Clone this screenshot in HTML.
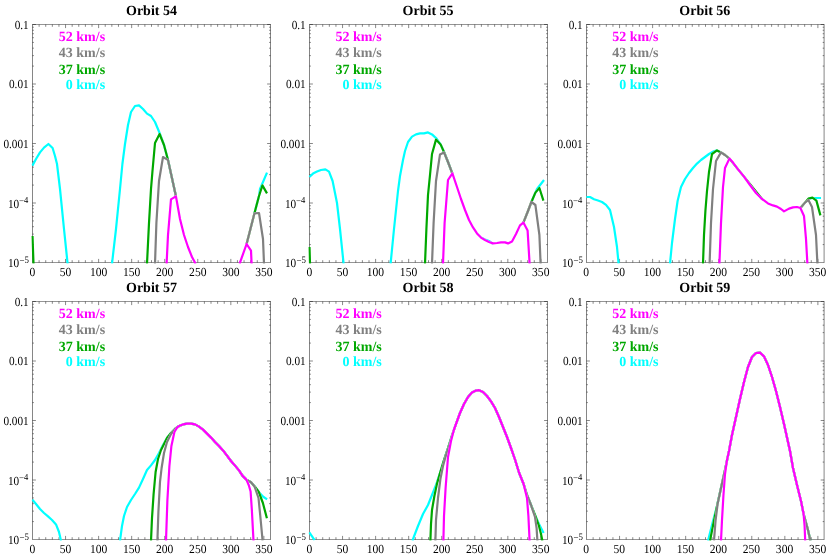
<!DOCTYPE html>
<html><head><meta charset="utf-8"><title>Orbits</title>
<style>html,body{margin:0;padding:0;background:#fff}svg{display:block;will-change:transform}text{font-family:"Liberation Serif",serif;text-rendering:geometricPrecision}</style></head>
<body>
<svg width="830" height="558" viewBox="0 0 830 558">
<rect width="830" height="558" fill="#fff"/>
<g>
<path d="M32.25,24.5H270.75 M32.25,262.5H270.75" fill="none" stroke="#000" stroke-width="0.42"/>
<path d="M32.5,24.5V262.5 M270.5,24.5V262.5" fill="none" stroke="#000" stroke-width="0.48"/>
<path d="M39.11,262.5v-2.3 M39.11,24.5v2.3 M45.72,262.5v-2.3 M45.72,24.5v2.3 M52.33,262.5v-2.3 M52.33,24.5v2.3 M58.94,262.5v-2.3 M58.94,24.5v2.3 M65.56,262.5v-3.6 M65.56,24.5v3.6 M72.17,262.5v-2.3 M72.17,24.5v2.3 M78.78,262.5v-2.3 M78.78,24.5v2.3 M85.39,262.5v-2.3 M85.39,24.5v2.3 M92.00,262.5v-2.3 M92.00,24.5v2.3 M98.61,262.5v-3.6 M98.61,24.5v3.6 M105.22,262.5v-2.3 M105.22,24.5v2.3 M111.83,262.5v-2.3 M111.83,24.5v2.3 M118.44,262.5v-2.3 M118.44,24.5v2.3 M125.06,262.5v-2.3 M125.06,24.5v2.3 M131.67,262.5v-3.6 M131.67,24.5v3.6 M138.28,262.5v-2.3 M138.28,24.5v2.3 M144.89,262.5v-2.3 M144.89,24.5v2.3 M151.50,262.5v-2.3 M151.50,24.5v2.3 M158.11,262.5v-2.3 M158.11,24.5v2.3 M164.72,262.5v-3.6 M164.72,24.5v3.6 M171.33,262.5v-2.3 M171.33,24.5v2.3 M177.94,262.5v-2.3 M177.94,24.5v2.3 M184.56,262.5v-2.3 M184.56,24.5v2.3 M191.17,262.5v-2.3 M191.17,24.5v2.3 M197.78,262.5v-3.6 M197.78,24.5v3.6 M204.39,262.5v-2.3 M204.39,24.5v2.3 M211.00,262.5v-2.3 M211.00,24.5v2.3 M217.61,262.5v-2.3 M217.61,24.5v2.3 M224.22,262.5v-2.3 M224.22,24.5v2.3 M230.83,262.5v-3.6 M230.83,24.5v3.6 M237.44,262.5v-2.3 M237.44,24.5v2.3 M244.06,262.5v-2.3 M244.06,24.5v2.3 M250.67,262.5v-2.3 M250.67,24.5v2.3 M257.28,262.5v-2.3 M257.28,24.5v2.3 M263.89,262.5v-3.6 M263.89,24.5v3.6 M32.5,244.59h1.4 M270.5,244.59h-1.4 M32.5,234.11h1.4 M270.5,234.11h-1.4 M32.5,226.68h1.4 M270.5,226.68h-1.4 M32.5,220.91h1.4 M270.5,220.91h-1.4 M32.5,216.20h1.4 M270.5,216.20h-1.4 M32.5,212.22h1.4 M270.5,212.22h-1.4 M32.5,208.77h1.4 M270.5,208.77h-1.4 M32.5,205.72h1.4 M270.5,205.72h-1.4 M32.5,203.00h3.4 M270.5,203.00h-3.4 M32.5,185.09h1.4 M270.5,185.09h-1.4 M32.5,174.61h1.4 M270.5,174.61h-1.4 M32.5,167.18h1.4 M270.5,167.18h-1.4 M32.5,161.41h1.4 M270.5,161.41h-1.4 M32.5,156.70h1.4 M270.5,156.70h-1.4 M32.5,152.72h1.4 M270.5,152.72h-1.4 M32.5,149.27h1.4 M270.5,149.27h-1.4 M32.5,146.22h1.4 M270.5,146.22h-1.4 M32.5,143.50h3.4 M270.5,143.50h-3.4 M32.5,125.59h1.4 M270.5,125.59h-1.4 M32.5,115.11h1.4 M270.5,115.11h-1.4 M32.5,107.68h1.4 M270.5,107.68h-1.4 M32.5,101.91h1.4 M270.5,101.91h-1.4 M32.5,97.20h1.4 M270.5,97.20h-1.4 M32.5,93.22h1.4 M270.5,93.22h-1.4 M32.5,89.77h1.4 M270.5,89.77h-1.4 M32.5,86.72h1.4 M270.5,86.72h-1.4 M32.5,84.00h3.4 M270.5,84.00h-3.4 M32.5,66.09h1.4 M270.5,66.09h-1.4 M32.5,55.61h1.4 M270.5,55.61h-1.4 M32.5,48.18h1.4 M270.5,48.18h-1.4 M32.5,42.41h1.4 M270.5,42.41h-1.4 M32.5,37.70h1.4 M270.5,37.70h-1.4 M32.5,33.72h1.4 M270.5,33.72h-1.4 M32.5,30.27h1.4 M270.5,30.27h-1.4 M32.5,27.22h1.4 M270.5,27.22h-1.4 M32.5,24.50h3.4 M270.5,24.50h-3.4" fill="none" stroke="#000" stroke-width="0.47"/>
<clipPath id="cp0"><rect x="31.3" y="24.5" width="240.4" height="239.1"/></clipPath>
<defs>
<path id="p0c" d="M32.4,165.6 L36.0,159.0 L40.0,152.4 L44.0,147.6 L48.4,144.0 L52.6,148.0 L55.0,156.0 L57.0,164.0 L60.0,189.0 L64.0,229.0 L67.6,263.7 M112.0,263.7 L116.0,229.0 L120.0,189.0 L122.4,164.0 L125.0,144.0 L128.0,125.0 L131.0,112.0 L135.0,106.0 L139.0,105.4 L143.0,109.0 L147.0,113.6 L151.0,116.0 L155.0,122.0 L159.6,133.0 L164.0,145.0 L168.0,160.0 L176.0,196.6 M254.4,213.4 L259.0,196.0 L260.0,189.0 L267.0,172.6"/>
<path id="p0g" d="M32.5,236.0 L33.5,263.7 M147.0,263.7 L149.0,223.0 L151.0,189.0 L152.4,172.0 L155.0,143.0 L159.6,134.0 L164.0,145.0 L168.0,160.0 L176.0,196.6 M246.6,244.0 L254.4,213.4 L259.0,196.0 L262.4,185.4 L267.0,193.4"/>
<path id="p0k" d="M155.0,263.7 L156.4,223.0 L159.0,181.0 L163.0,157.0 L167.4,159.6 L168.0,160.0 L176.0,196.6 M246.6,244.0 L254.4,213.4 L259.0,213.0 L263.0,239.0 L264.0,263.7"/>
<path id="p0m" d="M166.6,263.7 L168.0,235.0 L171.0,199.4 L175.8,196.4 L176.0,196.6 L180.0,219.0 L184.0,235.0 L188.0,247.0 L192.0,257.0 L195.6,263.7 M239.6,263.7 L246.6,244.0 L251.0,250.6 L251.6,263.7"/>
<mask id="m0c" maskUnits="userSpaceOnUse" x="30.5" y="22.5" width="242.0" height="242.0"><rect x="30.5" y="22.5" width="242.0" height="242.0" fill="#fff"/><g fill="none" stroke="#000" stroke-width="2.2" stroke-linejoin="round"><use href="#p0g"/><use href="#p0k"/><use href="#p0m"/></g></mask>
<mask id="m0g" maskUnits="userSpaceOnUse" x="30.5" y="22.5" width="242.0" height="242.0"><rect x="30.5" y="22.5" width="242.0" height="242.0" fill="#fff"/><g fill="none" stroke="#000" stroke-width="2.2" stroke-linejoin="round"><use href="#p0k"/><use href="#p0m"/></g></mask>
<mask id="m0k" maskUnits="userSpaceOnUse" x="30.5" y="22.5" width="242.0" height="242.0"><rect x="30.5" y="22.5" width="242.0" height="242.0" fill="#fff"/><g fill="none" stroke="#000" stroke-width="2.2" stroke-linejoin="round"><use href="#p0m"/></g></mask>
</defs>
<g clip-path="url(#cp0)" fill="none" stroke-width="2.2" stroke-linejoin="round" stroke-linecap="butt">
<use href="#p0c" stroke="#00ffff" mask="url(#m0c)"/>
<use href="#p0g" stroke="#00a800" mask="url(#m0g)"/>
<use href="#p0k" stroke="#808080" mask="url(#m0k)"/>
<use href="#p0m" stroke="#ff00ff"/>
</g>
<text x="151.5" y="15.0" font-size="14" font-weight="bold" text-anchor="middle" fill="#000">Orbit 54</text>
<text x="105.1" y="40.6" font-size="14" font-weight="bold" text-anchor="end" fill="#ff00ff">52 km/s</text>
<text x="105.1" y="56.6" font-size="14" font-weight="bold" text-anchor="end" fill="#808080">43 km/s</text>
<text x="105.1" y="73.6" font-size="14" font-weight="bold" text-anchor="end" fill="#00a800">37 km/s</text>
<text x="105.1" y="89.0" font-size="14" font-weight="bold" text-anchor="end" fill="#00ffff">0 km/s</text>
<text transform="translate(32.50,276.3) scale(0.94,1)" font-size="12.3" text-anchor="middle" fill="#000">0</text>
<text transform="translate(65.56,276.3) scale(0.94,1)" font-size="12.3" text-anchor="middle" fill="#000">50</text>
<text transform="translate(98.61,276.3) scale(0.94,1)" font-size="12.3" text-anchor="middle" fill="#000">100</text>
<text transform="translate(131.67,276.3) scale(0.94,1)" font-size="12.3" text-anchor="middle" fill="#000">150</text>
<text transform="translate(164.72,276.3) scale(0.94,1)" font-size="12.3" text-anchor="middle" fill="#000">200</text>
<text transform="translate(197.78,276.3) scale(0.94,1)" font-size="12.3" text-anchor="middle" fill="#000">250</text>
<text transform="translate(230.83,276.3) scale(0.94,1)" font-size="12.3" text-anchor="middle" fill="#000">300</text>
<text transform="translate(263.89,276.3) scale(0.94,1)" font-size="12.3" text-anchor="middle" fill="#000">350</text>
<text transform="translate(28.7,28.70) scale(0.915,1)" font-size="12.3" text-anchor="end" fill="#000">0.1</text>
<text transform="translate(28.7,88.20) scale(0.915,1)" font-size="12.3" text-anchor="end" fill="#000">0.01</text>
<text transform="translate(28.7,147.70) scale(0.915,1)" font-size="12.3" text-anchor="end" fill="#000">0.001</text>
<text transform="translate(19.20,207.50) scale(0.915,1)" font-size="12.3" text-anchor="end" fill="#000">10</text>
<text transform="translate(19.05,204.20) scale(0.93,1)" font-size="9.6" fill="#000">−<tspan dy="-1.3" font-size="9.2">4</tspan></text>
<text transform="translate(19.20,267.00) scale(0.915,1)" font-size="12.3" text-anchor="end" fill="#000">10</text>
<text transform="translate(19.50,263.70) scale(0.9,1)" font-size="9.9" fill="#000">−<tspan dy="-0.5" font-size="9.9">5</tspan></text>
</g>
<g>
<path d="M309.25,24.5H547.75 M309.25,262.5H547.75" fill="none" stroke="#000" stroke-width="0.42"/>
<path d="M309.5,24.5V262.5 M547.5,24.5V262.5" fill="none" stroke="#000" stroke-width="0.48"/>
<path d="M316.11,262.5v-2.3 M316.11,24.5v2.3 M322.72,262.5v-2.3 M322.72,24.5v2.3 M329.33,262.5v-2.3 M329.33,24.5v2.3 M335.94,262.5v-2.3 M335.94,24.5v2.3 M342.56,262.5v-3.6 M342.56,24.5v3.6 M349.17,262.5v-2.3 M349.17,24.5v2.3 M355.78,262.5v-2.3 M355.78,24.5v2.3 M362.39,262.5v-2.3 M362.39,24.5v2.3 M369.00,262.5v-2.3 M369.00,24.5v2.3 M375.61,262.5v-3.6 M375.61,24.5v3.6 M382.22,262.5v-2.3 M382.22,24.5v2.3 M388.83,262.5v-2.3 M388.83,24.5v2.3 M395.44,262.5v-2.3 M395.44,24.5v2.3 M402.06,262.5v-2.3 M402.06,24.5v2.3 M408.67,262.5v-3.6 M408.67,24.5v3.6 M415.28,262.5v-2.3 M415.28,24.5v2.3 M421.89,262.5v-2.3 M421.89,24.5v2.3 M428.50,262.5v-2.3 M428.50,24.5v2.3 M435.11,262.5v-2.3 M435.11,24.5v2.3 M441.72,262.5v-3.6 M441.72,24.5v3.6 M448.33,262.5v-2.3 M448.33,24.5v2.3 M454.94,262.5v-2.3 M454.94,24.5v2.3 M461.56,262.5v-2.3 M461.56,24.5v2.3 M468.17,262.5v-2.3 M468.17,24.5v2.3 M474.78,262.5v-3.6 M474.78,24.5v3.6 M481.39,262.5v-2.3 M481.39,24.5v2.3 M488.00,262.5v-2.3 M488.00,24.5v2.3 M494.61,262.5v-2.3 M494.61,24.5v2.3 M501.22,262.5v-2.3 M501.22,24.5v2.3 M507.83,262.5v-3.6 M507.83,24.5v3.6 M514.44,262.5v-2.3 M514.44,24.5v2.3 M521.06,262.5v-2.3 M521.06,24.5v2.3 M527.67,262.5v-2.3 M527.67,24.5v2.3 M534.28,262.5v-2.3 M534.28,24.5v2.3 M540.89,262.5v-3.6 M540.89,24.5v3.6 M309.5,244.59h1.4 M547.5,244.59h-1.4 M309.5,234.11h1.4 M547.5,234.11h-1.4 M309.5,226.68h1.4 M547.5,226.68h-1.4 M309.5,220.91h1.4 M547.5,220.91h-1.4 M309.5,216.20h1.4 M547.5,216.20h-1.4 M309.5,212.22h1.4 M547.5,212.22h-1.4 M309.5,208.77h1.4 M547.5,208.77h-1.4 M309.5,205.72h1.4 M547.5,205.72h-1.4 M309.5,203.00h3.4 M547.5,203.00h-3.4 M309.5,185.09h1.4 M547.5,185.09h-1.4 M309.5,174.61h1.4 M547.5,174.61h-1.4 M309.5,167.18h1.4 M547.5,167.18h-1.4 M309.5,161.41h1.4 M547.5,161.41h-1.4 M309.5,156.70h1.4 M547.5,156.70h-1.4 M309.5,152.72h1.4 M547.5,152.72h-1.4 M309.5,149.27h1.4 M547.5,149.27h-1.4 M309.5,146.22h1.4 M547.5,146.22h-1.4 M309.5,143.50h3.4 M547.5,143.50h-3.4 M309.5,125.59h1.4 M547.5,125.59h-1.4 M309.5,115.11h1.4 M547.5,115.11h-1.4 M309.5,107.68h1.4 M547.5,107.68h-1.4 M309.5,101.91h1.4 M547.5,101.91h-1.4 M309.5,97.20h1.4 M547.5,97.20h-1.4 M309.5,93.22h1.4 M547.5,93.22h-1.4 M309.5,89.77h1.4 M547.5,89.77h-1.4 M309.5,86.72h1.4 M547.5,86.72h-1.4 M309.5,84.00h3.4 M547.5,84.00h-3.4 M309.5,66.09h1.4 M547.5,66.09h-1.4 M309.5,55.61h1.4 M547.5,55.61h-1.4 M309.5,48.18h1.4 M547.5,48.18h-1.4 M309.5,42.41h1.4 M547.5,42.41h-1.4 M309.5,37.70h1.4 M547.5,37.70h-1.4 M309.5,33.72h1.4 M547.5,33.72h-1.4 M309.5,30.27h1.4 M547.5,30.27h-1.4 M309.5,27.22h1.4 M547.5,27.22h-1.4 M309.5,24.50h3.4 M547.5,24.50h-3.4" fill="none" stroke="#000" stroke-width="0.47"/>
<clipPath id="cp1"><rect x="308.3" y="24.5" width="240.4" height="239.1"/></clipPath>
<defs>
<path id="p1c" d="M309.4,177.0 L313.0,173.6 L317.0,171.6 L321.0,170.0 L325.4,169.4 L329.0,171.6 L332.6,181.0 L337.0,203.0 L340.0,229.0 L343.6,263.7 M390.6,263.7 L394.0,229.0 L398.0,191.0 L400.0,176.0 L403.0,160.0 L405.0,151.0 L408.0,142.0 L412.0,136.6 L416.0,134.4 L420.0,133.4 L424.0,133.4 L428.0,132.4 L432.0,134.4 L436.6,138.6 L440.6,144.4 L444.0,152.0 L448.0,162.0 L452.4,173.6 M481.0,237.6 L485.0,239.4 L489.0,241.0 L493.0,243.8 M531.4,202.0 L535.4,192.6 L537.0,189.0 L544.0,180.0"/>
<path id="p1g" d="M309.5,247.0 L310.0,263.7 M425.0,263.7 L426.4,229.0 L428.0,195.0 L430.0,175.0 L432.0,154.0 L436.0,139.6 L440.6,144.4 L444.0,152.0 L448.0,162.0 L452.4,173.6 M523.4,222.6 L528.0,211.0 L531.4,202.0 L535.4,192.6 L539.4,188.0 L543.4,200.6"/>
<path id="p1k" d="M432.0,263.7 L433.6,223.0 L436.0,181.0 L440.0,154.4 L444.0,152.4 L448.0,162.0 L452.4,173.6 M523.4,222.6 L528.0,211.0 L531.4,202.0 L535.4,205.0 L539.4,235.0 L540.6,263.7"/>
<path id="p1m" d="M443.0,263.7 L444.6,223.0 L448.0,180.0 L452.4,173.4 L457.0,187.0 L461.0,199.0 L465.0,210.0 L469.0,220.0 L473.0,227.4 L477.0,233.4 L481.0,237.6 L485.0,240.0 L489.0,242.0 L493.0,243.4 L497.0,243.0 L501.0,242.4 L505.0,242.4 L508.0,243.4 L512.0,241.4 L516.0,234.0 L520.0,225.4 L523.4,222.6 L527.6,230.6 L529.6,263.7"/>
<mask id="m1c" maskUnits="userSpaceOnUse" x="307.5" y="22.5" width="242.0" height="242.0"><rect x="307.5" y="22.5" width="242.0" height="242.0" fill="#fff"/><g fill="none" stroke="#000" stroke-width="2.2" stroke-linejoin="round"><use href="#p1g"/><use href="#p1k"/><use href="#p1m"/></g></mask>
<mask id="m1g" maskUnits="userSpaceOnUse" x="307.5" y="22.5" width="242.0" height="242.0"><rect x="307.5" y="22.5" width="242.0" height="242.0" fill="#fff"/><g fill="none" stroke="#000" stroke-width="2.2" stroke-linejoin="round"><use href="#p1k"/><use href="#p1m"/></g></mask>
<mask id="m1k" maskUnits="userSpaceOnUse" x="307.5" y="22.5" width="242.0" height="242.0"><rect x="307.5" y="22.5" width="242.0" height="242.0" fill="#fff"/><g fill="none" stroke="#000" stroke-width="2.2" stroke-linejoin="round"><use href="#p1m"/></g></mask>
</defs>
<g clip-path="url(#cp1)" fill="none" stroke-width="2.2" stroke-linejoin="round" stroke-linecap="butt">
<use href="#p1c" stroke="#00ffff" mask="url(#m1c)"/>
<use href="#p1g" stroke="#00a800" mask="url(#m1g)"/>
<use href="#p1k" stroke="#808080" mask="url(#m1k)"/>
<use href="#p1m" stroke="#ff00ff"/>
</g>
<text x="428.1" y="15.0" font-size="14" font-weight="bold" text-anchor="middle" fill="#000">Orbit 55</text>
<text x="381.75" y="40.6" font-size="14" font-weight="bold" text-anchor="end" fill="#ff00ff">52 km/s</text>
<text x="381.75" y="56.6" font-size="14" font-weight="bold" text-anchor="end" fill="#808080">43 km/s</text>
<text x="381.75" y="73.6" font-size="14" font-weight="bold" text-anchor="end" fill="#00a800">37 km/s</text>
<text x="381.75" y="89.0" font-size="14" font-weight="bold" text-anchor="end" fill="#00ffff">0 km/s</text>
<text transform="translate(309.35,276.3) scale(0.94,1)" font-size="12.3" text-anchor="middle" fill="#000">0</text>
<text transform="translate(342.41,276.3) scale(0.94,1)" font-size="12.3" text-anchor="middle" fill="#000">50</text>
<text transform="translate(375.46,276.3) scale(0.94,1)" font-size="12.3" text-anchor="middle" fill="#000">100</text>
<text transform="translate(408.52,276.3) scale(0.94,1)" font-size="12.3" text-anchor="middle" fill="#000">150</text>
<text transform="translate(441.57,276.3) scale(0.94,1)" font-size="12.3" text-anchor="middle" fill="#000">200</text>
<text transform="translate(474.63,276.3) scale(0.94,1)" font-size="12.3" text-anchor="middle" fill="#000">250</text>
<text transform="translate(507.68,276.3) scale(0.94,1)" font-size="12.3" text-anchor="middle" fill="#000">300</text>
<text transform="translate(540.74,276.3) scale(0.94,1)" font-size="12.3" text-anchor="middle" fill="#000">350</text>
<text transform="translate(305.7,28.70) scale(0.915,1)" font-size="12.3" text-anchor="end" fill="#000">0.1</text>
<text transform="translate(305.7,88.20) scale(0.915,1)" font-size="12.3" text-anchor="end" fill="#000">0.01</text>
<text transform="translate(305.7,147.70) scale(0.915,1)" font-size="12.3" text-anchor="end" fill="#000">0.001</text>
<text transform="translate(296.20,207.50) scale(0.915,1)" font-size="12.3" text-anchor="end" fill="#000">10</text>
<text transform="translate(296.05,204.20) scale(0.93,1)" font-size="9.6" fill="#000">−<tspan dy="-1.3" font-size="9.2">4</tspan></text>
<text transform="translate(296.20,267.00) scale(0.915,1)" font-size="12.3" text-anchor="end" fill="#000">10</text>
<text transform="translate(296.50,263.70) scale(0.9,1)" font-size="9.9" fill="#000">−<tspan dy="-0.5" font-size="9.9">5</tspan></text>
</g>
<g>
<path d="M586.25,24.5H824.35 M586.25,262.5H824.35" fill="none" stroke="#000" stroke-width="0.42"/>
<path d="M586.5,24.5V262.5 M824.1,24.5V262.5" fill="none" stroke="#000" stroke-width="0.48"/>
<path d="M593.11,262.5v-2.3 M593.11,24.5v2.3 M599.72,262.5v-2.3 M599.72,24.5v2.3 M606.33,262.5v-2.3 M606.33,24.5v2.3 M612.94,262.5v-2.3 M612.94,24.5v2.3 M619.56,262.5v-3.6 M619.56,24.5v3.6 M626.17,262.5v-2.3 M626.17,24.5v2.3 M632.78,262.5v-2.3 M632.78,24.5v2.3 M639.39,262.5v-2.3 M639.39,24.5v2.3 M646.00,262.5v-2.3 M646.00,24.5v2.3 M652.61,262.5v-3.6 M652.61,24.5v3.6 M659.22,262.5v-2.3 M659.22,24.5v2.3 M665.83,262.5v-2.3 M665.83,24.5v2.3 M672.44,262.5v-2.3 M672.44,24.5v2.3 M679.06,262.5v-2.3 M679.06,24.5v2.3 M685.67,262.5v-3.6 M685.67,24.5v3.6 M692.28,262.5v-2.3 M692.28,24.5v2.3 M698.89,262.5v-2.3 M698.89,24.5v2.3 M705.50,262.5v-2.3 M705.50,24.5v2.3 M712.11,262.5v-2.3 M712.11,24.5v2.3 M718.72,262.5v-3.6 M718.72,24.5v3.6 M725.33,262.5v-2.3 M725.33,24.5v2.3 M731.94,262.5v-2.3 M731.94,24.5v2.3 M738.56,262.5v-2.3 M738.56,24.5v2.3 M745.17,262.5v-2.3 M745.17,24.5v2.3 M751.78,262.5v-3.6 M751.78,24.5v3.6 M758.39,262.5v-2.3 M758.39,24.5v2.3 M765.00,262.5v-2.3 M765.00,24.5v2.3 M771.61,262.5v-2.3 M771.61,24.5v2.3 M778.22,262.5v-2.3 M778.22,24.5v2.3 M784.83,262.5v-3.6 M784.83,24.5v3.6 M791.44,262.5v-2.3 M791.44,24.5v2.3 M798.06,262.5v-2.3 M798.06,24.5v2.3 M804.67,262.5v-2.3 M804.67,24.5v2.3 M811.28,262.5v-2.3 M811.28,24.5v2.3 M817.89,262.5v-3.6 M817.89,24.5v3.6 M586.5,244.59h1.4 M824.1,244.59h-1.4 M586.5,234.11h1.4 M824.1,234.11h-1.4 M586.5,226.68h1.4 M824.1,226.68h-1.4 M586.5,220.91h1.4 M824.1,220.91h-1.4 M586.5,216.20h1.4 M824.1,216.20h-1.4 M586.5,212.22h1.4 M824.1,212.22h-1.4 M586.5,208.77h1.4 M824.1,208.77h-1.4 M586.5,205.72h1.4 M824.1,205.72h-1.4 M586.5,203.00h3.4 M824.1,203.00h-3.4 M586.5,185.09h1.4 M824.1,185.09h-1.4 M586.5,174.61h1.4 M824.1,174.61h-1.4 M586.5,167.18h1.4 M824.1,167.18h-1.4 M586.5,161.41h1.4 M824.1,161.41h-1.4 M586.5,156.70h1.4 M824.1,156.70h-1.4 M586.5,152.72h1.4 M824.1,152.72h-1.4 M586.5,149.27h1.4 M824.1,149.27h-1.4 M586.5,146.22h1.4 M824.1,146.22h-1.4 M586.5,143.50h3.4 M824.1,143.50h-3.4 M586.5,125.59h1.4 M824.1,125.59h-1.4 M586.5,115.11h1.4 M824.1,115.11h-1.4 M586.5,107.68h1.4 M824.1,107.68h-1.4 M586.5,101.91h1.4 M824.1,101.91h-1.4 M586.5,97.20h1.4 M824.1,97.20h-1.4 M586.5,93.22h1.4 M824.1,93.22h-1.4 M586.5,89.77h1.4 M824.1,89.77h-1.4 M586.5,86.72h1.4 M824.1,86.72h-1.4 M586.5,84.00h3.4 M824.1,84.00h-3.4 M586.5,66.09h1.4 M824.1,66.09h-1.4 M586.5,55.61h1.4 M824.1,55.61h-1.4 M586.5,48.18h1.4 M824.1,48.18h-1.4 M586.5,42.41h1.4 M824.1,42.41h-1.4 M586.5,37.70h1.4 M824.1,37.70h-1.4 M586.5,33.72h1.4 M824.1,33.72h-1.4 M586.5,30.27h1.4 M824.1,30.27h-1.4 M586.5,27.22h1.4 M824.1,27.22h-1.4 M586.5,24.50h3.4 M824.1,24.50h-3.4" fill="none" stroke="#000" stroke-width="0.47"/>
<clipPath id="cp2"><rect x="585.3" y="24.5" width="240.4" height="239.1"/></clipPath>
<defs>
<path id="p2c" d="M586.4,197.0 L590.0,197.0 L594.0,199.2 L598.0,200.5 L602.0,202.0 L606.0,204.8 L610.0,210.0 L614.0,227.0 L617.0,247.0 L618.6,263.7 M670.0,263.7 L672.0,243.0 L675.0,219.0 L677.6,201.0 L681.0,187.0 L685.0,179.0 L689.0,173.0 L693.0,168.0 L697.0,163.6 L701.0,160.0 L705.0,157.0 L709.0,154.0 L713.0,151.6 L717.0,150.4 L721.0,152.4 M808.4,198.6 L812.4,198.0 L821.0,198.0"/>
<path id="p2g" d="M703.0,263.7 L704.0,235.0 L705.4,211.0 L707.0,191.0 L709.0,172.0 L712.0,154.0 L717.0,150.4 L721.0,152.4 L725.0,155.0 L729.4,158.6 L744.0,176.6 L762.0,199.0 M800.4,208.0 L805.0,202.6 L808.4,198.6 L812.4,197.6 L816.4,200.6 L820.4,215.4"/>
<path id="p2k" d="M709.6,263.7 L711.0,223.0 L713.0,189.0 L716.0,161.0 L721.0,152.4 L725.0,155.0 L729.4,158.6 M800.4,208.0 L805.0,202.6 L808.4,200.0 L812.0,207.0 L816.0,235.0 L817.4,263.7"/>
<path id="p2m" d="M719.4,263.7 L721.0,223.0 L723.0,187.0 L725.0,168.0 L729.4,158.6 L733.0,162.6 L738.0,169.4 L744.0,176.6 L750.0,185.0 L756.0,193.0 L762.0,199.0 L768.0,203.4 L773.0,205.4 L777.0,206.6 L781.0,209.0 L784.0,211.4 L789.0,208.6 L793.0,207.4 L797.0,207.0 L800.4,208.0 L804.0,216.0 L806.0,239.0 L807.4,263.7"/>
<mask id="m2c" maskUnits="userSpaceOnUse" x="584.5" y="22.5" width="242.0" height="242.0"><rect x="584.5" y="22.5" width="242.0" height="242.0" fill="#fff"/><g fill="none" stroke="#000" stroke-width="2.2" stroke-linejoin="round"><use href="#p2g"/><use href="#p2k"/><use href="#p2m"/></g></mask>
<mask id="m2g" maskUnits="userSpaceOnUse" x="584.5" y="22.5" width="242.0" height="242.0"><rect x="584.5" y="22.5" width="242.0" height="242.0" fill="#fff"/><g fill="none" stroke="#000" stroke-width="2.2" stroke-linejoin="round"><use href="#p2k"/><use href="#p2m"/></g></mask>
<mask id="m2k" maskUnits="userSpaceOnUse" x="584.5" y="22.5" width="242.0" height="242.0"><rect x="584.5" y="22.5" width="242.0" height="242.0" fill="#fff"/><g fill="none" stroke="#000" stroke-width="2.2" stroke-linejoin="round"><use href="#p2m"/></g></mask>
</defs>
<g clip-path="url(#cp2)" fill="none" stroke-width="2.2" stroke-linejoin="round" stroke-linecap="butt">
<use href="#p2c" stroke="#00ffff" mask="url(#m2c)"/>
<use href="#p2g" stroke="#00a800" mask="url(#m2g)"/>
<use href="#p2k" stroke="#808080" mask="url(#m2k)"/>
<use href="#p2m" stroke="#ff00ff"/>
</g>
<text x="704.85" y="15.0" font-size="14" font-weight="bold" text-anchor="middle" fill="#000">Orbit 56</text>
<text x="658.5" y="40.6" font-size="14" font-weight="bold" text-anchor="end" fill="#ff00ff">52 km/s</text>
<text x="658.5" y="56.6" font-size="14" font-weight="bold" text-anchor="end" fill="#808080">43 km/s</text>
<text x="658.5" y="73.6" font-size="14" font-weight="bold" text-anchor="end" fill="#00a800">37 km/s</text>
<text x="658.5" y="89.0" font-size="14" font-weight="bold" text-anchor="end" fill="#00ffff">0 km/s</text>
<text transform="translate(586.20,276.3) scale(0.94,1)" font-size="12.3" text-anchor="middle" fill="#000">0</text>
<text transform="translate(619.26,276.3) scale(0.94,1)" font-size="12.3" text-anchor="middle" fill="#000">50</text>
<text transform="translate(652.31,276.3) scale(0.94,1)" font-size="12.3" text-anchor="middle" fill="#000">100</text>
<text transform="translate(685.37,276.3) scale(0.94,1)" font-size="12.3" text-anchor="middle" fill="#000">150</text>
<text transform="translate(718.42,276.3) scale(0.94,1)" font-size="12.3" text-anchor="middle" fill="#000">200</text>
<text transform="translate(751.48,276.3) scale(0.94,1)" font-size="12.3" text-anchor="middle" fill="#000">250</text>
<text transform="translate(784.53,276.3) scale(0.94,1)" font-size="12.3" text-anchor="middle" fill="#000">300</text>
<text transform="translate(817.59,276.3) scale(0.94,1)" font-size="12.3" text-anchor="middle" fill="#000">350</text>
<text transform="translate(582.7,28.70) scale(0.915,1)" font-size="12.3" text-anchor="end" fill="#000">0.1</text>
<text transform="translate(582.7,88.20) scale(0.915,1)" font-size="12.3" text-anchor="end" fill="#000">0.01</text>
<text transform="translate(582.7,147.70) scale(0.915,1)" font-size="12.3" text-anchor="end" fill="#000">0.001</text>
<text transform="translate(573.20,207.50) scale(0.915,1)" font-size="12.3" text-anchor="end" fill="#000">10</text>
<text transform="translate(573.05,204.20) scale(0.93,1)" font-size="9.6" fill="#000">−<tspan dy="-1.3" font-size="9.2">4</tspan></text>
<text transform="translate(573.20,267.00) scale(0.915,1)" font-size="12.3" text-anchor="end" fill="#000">10</text>
<text transform="translate(573.50,263.70) scale(0.9,1)" font-size="9.9" fill="#000">−<tspan dy="-0.5" font-size="9.9">5</tspan></text>
</g>
<g>
<path d="M32.25,301.5H270.75 M32.25,539.5H270.75" fill="none" stroke="#000" stroke-width="0.42"/>
<path d="M32.5,301.5V539.5 M270.5,301.5V539.5" fill="none" stroke="#000" stroke-width="0.48"/>
<path d="M39.11,539.5v-2.3 M39.11,301.5v2.3 M45.72,539.5v-2.3 M45.72,301.5v2.3 M52.33,539.5v-2.3 M52.33,301.5v2.3 M58.94,539.5v-2.3 M58.94,301.5v2.3 M65.56,539.5v-3.6 M65.56,301.5v3.6 M72.17,539.5v-2.3 M72.17,301.5v2.3 M78.78,539.5v-2.3 M78.78,301.5v2.3 M85.39,539.5v-2.3 M85.39,301.5v2.3 M92.00,539.5v-2.3 M92.00,301.5v2.3 M98.61,539.5v-3.6 M98.61,301.5v3.6 M105.22,539.5v-2.3 M105.22,301.5v2.3 M111.83,539.5v-2.3 M111.83,301.5v2.3 M118.44,539.5v-2.3 M118.44,301.5v2.3 M125.06,539.5v-2.3 M125.06,301.5v2.3 M131.67,539.5v-3.6 M131.67,301.5v3.6 M138.28,539.5v-2.3 M138.28,301.5v2.3 M144.89,539.5v-2.3 M144.89,301.5v2.3 M151.50,539.5v-2.3 M151.50,301.5v2.3 M158.11,539.5v-2.3 M158.11,301.5v2.3 M164.72,539.5v-3.6 M164.72,301.5v3.6 M171.33,539.5v-2.3 M171.33,301.5v2.3 M177.94,539.5v-2.3 M177.94,301.5v2.3 M184.56,539.5v-2.3 M184.56,301.5v2.3 M191.17,539.5v-2.3 M191.17,301.5v2.3 M197.78,539.5v-3.6 M197.78,301.5v3.6 M204.39,539.5v-2.3 M204.39,301.5v2.3 M211.00,539.5v-2.3 M211.00,301.5v2.3 M217.61,539.5v-2.3 M217.61,301.5v2.3 M224.22,539.5v-2.3 M224.22,301.5v2.3 M230.83,539.5v-3.6 M230.83,301.5v3.6 M237.44,539.5v-2.3 M237.44,301.5v2.3 M244.06,539.5v-2.3 M244.06,301.5v2.3 M250.67,539.5v-2.3 M250.67,301.5v2.3 M257.28,539.5v-2.3 M257.28,301.5v2.3 M263.89,539.5v-3.6 M263.89,301.5v3.6 M32.5,521.59h1.4 M270.5,521.59h-1.4 M32.5,511.11h1.4 M270.5,511.11h-1.4 M32.5,503.68h1.4 M270.5,503.68h-1.4 M32.5,497.91h1.4 M270.5,497.91h-1.4 M32.5,493.20h1.4 M270.5,493.20h-1.4 M32.5,489.22h1.4 M270.5,489.22h-1.4 M32.5,485.77h1.4 M270.5,485.77h-1.4 M32.5,482.72h1.4 M270.5,482.72h-1.4 M32.5,480.00h3.4 M270.5,480.00h-3.4 M32.5,462.09h1.4 M270.5,462.09h-1.4 M32.5,451.61h1.4 M270.5,451.61h-1.4 M32.5,444.18h1.4 M270.5,444.18h-1.4 M32.5,438.41h1.4 M270.5,438.41h-1.4 M32.5,433.70h1.4 M270.5,433.70h-1.4 M32.5,429.72h1.4 M270.5,429.72h-1.4 M32.5,426.27h1.4 M270.5,426.27h-1.4 M32.5,423.22h1.4 M270.5,423.22h-1.4 M32.5,420.50h3.4 M270.5,420.50h-3.4 M32.5,402.59h1.4 M270.5,402.59h-1.4 M32.5,392.11h1.4 M270.5,392.11h-1.4 M32.5,384.68h1.4 M270.5,384.68h-1.4 M32.5,378.91h1.4 M270.5,378.91h-1.4 M32.5,374.20h1.4 M270.5,374.20h-1.4 M32.5,370.22h1.4 M270.5,370.22h-1.4 M32.5,366.77h1.4 M270.5,366.77h-1.4 M32.5,363.72h1.4 M270.5,363.72h-1.4 M32.5,361.00h3.4 M270.5,361.00h-3.4 M32.5,343.09h1.4 M270.5,343.09h-1.4 M32.5,332.61h1.4 M270.5,332.61h-1.4 M32.5,325.18h1.4 M270.5,325.18h-1.4 M32.5,319.41h1.4 M270.5,319.41h-1.4 M32.5,314.70h1.4 M270.5,314.70h-1.4 M32.5,310.72h1.4 M270.5,310.72h-1.4 M32.5,307.27h1.4 M270.5,307.27h-1.4 M32.5,304.22h1.4 M270.5,304.22h-1.4 M32.5,301.50h3.4 M270.5,301.50h-3.4" fill="none" stroke="#000" stroke-width="0.47"/>
<clipPath id="cp3"><rect x="31.3" y="301.5" width="240.4" height="239.1"/></clipPath>
<defs>
<path id="p3c" d="M32.4,499.6 L36.0,504.0 L40.0,509.0 L44.0,513.0 L48.0,516.4 L52.0,520.0 L56.0,524.4 L59.0,532.0 L61.0,540.7 M120.0,540.7 L122.0,526.0 L124.0,516.0 L127.0,507.0 L131.0,500.0 L135.0,494.0 L139.0,487.6 L143.0,479.0 L147.0,470.0 L151.0,465.4 L155.0,460.0 L159.0,453.0 L163.0,445.0 L167.0,438.0 L171.0,433.0 L175.0,429.0 L179.0,426.0 L183.0,424.4 L187.0,423.6 L191.0,423.6 L195.0,424.4 L199.0,426.6 L203.0,429.6 L207.0,433.6 L211.0,437.6 L215.0,442.0 L219.0,446.0 L223.0,450.4 L227.0,455.6 L231.0,461.0 L235.0,465.6 L239.0,470.4 L242.4,475.6 L246.4,479.6 L251.0,482.3 L254.7,486.4 L258.8,492.0 L262.9,496.5 L267.1,499.4"/>
<path id="p3g" d="M151.0,540.7 L152.0,518.0 L153.6,494.0 L155.6,472.0 L158.0,459.0 L161.0,450.0 L164.0,444.0 L167.0,438.0 L171.0,433.0 L175.0,429.0 L179.0,426.0 L183.0,424.4 L187.0,423.6 L191.0,423.6 L195.0,424.4 L199.0,426.6 L203.0,429.6 L207.0,433.6 L211.0,437.6 L215.0,442.0 L219.0,446.0 L223.0,450.4 L227.0,455.6 L231.0,461.0 L235.0,465.6 L239.0,470.4 L242.4,475.6 L246.4,479.6 L251.0,482.3 L254.7,486.4 L258.8,492.0 L262.9,503.0 L266.9,518.3"/>
<path id="p3k" d="M157.4,540.7 L158.4,512.0 L160.0,482.0 L161.6,468.0 L164.0,453.0 L167.0,442.0 L171.0,434.0 L175.0,429.0 L179.0,426.0 L183.0,424.4 L187.0,423.6 L191.0,423.6 L195.0,424.4 L199.0,426.6 L203.0,429.6 L207.0,433.6 L211.0,437.6 L215.0,442.0 L219.0,446.0 L223.0,450.4 L227.0,455.6 L231.0,461.0 L235.0,465.6 L239.0,470.4 L242.4,475.6 L246.4,479.6 L251.0,482.3 L254.7,486.8 L258.5,498.0 L260.2,515.0 L262.6,540.7"/>
<path id="p3m" d="M166.0,540.7 L167.4,500.0 L169.4,466.0 L171.4,446.0 L174.4,432.0 L177.0,427.6 L179.0,426.0 L183.0,424.4 L187.0,423.6 L191.0,423.6 L195.0,424.4 L199.0,426.6 L203.0,429.6 L207.0,433.6 L211.0,437.6 L215.0,442.0 L219.0,446.0 L223.0,450.4 L227.0,455.6 L231.0,461.0 L235.0,465.6 L239.0,470.4 L242.4,475.6 L246.4,479.6 L248.8,485.3 L250.6,491.5 L251.8,509.0 L253.5,540.7"/>
<mask id="m3c" maskUnits="userSpaceOnUse" x="30.5" y="299.5" width="242.0" height="242.0"><rect x="30.5" y="299.5" width="242.0" height="242.0" fill="#fff"/><g fill="none" stroke="#000" stroke-width="2.2" stroke-linejoin="round"><use href="#p3g"/><use href="#p3k"/><use href="#p3m"/></g></mask>
<mask id="m3g" maskUnits="userSpaceOnUse" x="30.5" y="299.5" width="242.0" height="242.0"><rect x="30.5" y="299.5" width="242.0" height="242.0" fill="#fff"/><g fill="none" stroke="#000" stroke-width="2.2" stroke-linejoin="round"><use href="#p3k"/><use href="#p3m"/></g></mask>
<mask id="m3k" maskUnits="userSpaceOnUse" x="30.5" y="299.5" width="242.0" height="242.0"><rect x="30.5" y="299.5" width="242.0" height="242.0" fill="#fff"/><g fill="none" stroke="#000" stroke-width="2.2" stroke-linejoin="round"><use href="#p3m"/></g></mask>
</defs>
<g clip-path="url(#cp3)" fill="none" stroke-width="2.2" stroke-linejoin="round" stroke-linecap="butt">
<use href="#p3c" stroke="#00ffff" mask="url(#m3c)"/>
<use href="#p3g" stroke="#00a800" mask="url(#m3g)"/>
<use href="#p3k" stroke="#808080" mask="url(#m3k)"/>
<use href="#p3m" stroke="#ff00ff"/>
</g>
<text x="151.5" y="292.0" font-size="14" font-weight="bold" text-anchor="middle" fill="#000">Orbit 57</text>
<text x="105.1" y="317.6" font-size="14" font-weight="bold" text-anchor="end" fill="#ff00ff">52 km/s</text>
<text x="105.1" y="333.6" font-size="14" font-weight="bold" text-anchor="end" fill="#808080">43 km/s</text>
<text x="105.1" y="350.8" font-size="14" font-weight="bold" text-anchor="end" fill="#00a800">37 km/s</text>
<text x="105.1" y="365.9" font-size="14" font-weight="bold" text-anchor="end" fill="#00ffff">0 km/s</text>
<text transform="translate(32.50,553.3) scale(0.94,1)" font-size="12.3" text-anchor="middle" fill="#000">0</text>
<text transform="translate(65.56,553.3) scale(0.94,1)" font-size="12.3" text-anchor="middle" fill="#000">50</text>
<text transform="translate(98.61,553.3) scale(0.94,1)" font-size="12.3" text-anchor="middle" fill="#000">100</text>
<text transform="translate(131.67,553.3) scale(0.94,1)" font-size="12.3" text-anchor="middle" fill="#000">150</text>
<text transform="translate(164.72,553.3) scale(0.94,1)" font-size="12.3" text-anchor="middle" fill="#000">200</text>
<text transform="translate(197.78,553.3) scale(0.94,1)" font-size="12.3" text-anchor="middle" fill="#000">250</text>
<text transform="translate(230.83,553.3) scale(0.94,1)" font-size="12.3" text-anchor="middle" fill="#000">300</text>
<text transform="translate(263.89,553.3) scale(0.94,1)" font-size="12.3" text-anchor="middle" fill="#000">350</text>
<text transform="translate(28.7,305.70) scale(0.915,1)" font-size="12.3" text-anchor="end" fill="#000">0.1</text>
<text transform="translate(28.7,365.20) scale(0.915,1)" font-size="12.3" text-anchor="end" fill="#000">0.01</text>
<text transform="translate(28.7,424.70) scale(0.915,1)" font-size="12.3" text-anchor="end" fill="#000">0.001</text>
<text transform="translate(19.20,484.50) scale(0.915,1)" font-size="12.3" text-anchor="end" fill="#000">10</text>
<text transform="translate(19.05,481.20) scale(0.93,1)" font-size="9.6" fill="#000">−<tspan dy="-1.3" font-size="9.2">4</tspan></text>
<text transform="translate(19.20,544.00) scale(0.915,1)" font-size="12.3" text-anchor="end" fill="#000">10</text>
<text transform="translate(19.50,540.70) scale(0.9,1)" font-size="9.9" fill="#000">−<tspan dy="-0.5" font-size="9.9">5</tspan></text>
</g>
<g>
<path d="M309.25,301.5H547.75 M309.25,539.5H547.75" fill="none" stroke="#000" stroke-width="0.42"/>
<path d="M309.5,301.5V539.5 M547.5,301.5V539.5" fill="none" stroke="#000" stroke-width="0.48"/>
<path d="M316.11,539.5v-2.3 M316.11,301.5v2.3 M322.72,539.5v-2.3 M322.72,301.5v2.3 M329.33,539.5v-2.3 M329.33,301.5v2.3 M335.94,539.5v-2.3 M335.94,301.5v2.3 M342.56,539.5v-3.6 M342.56,301.5v3.6 M349.17,539.5v-2.3 M349.17,301.5v2.3 M355.78,539.5v-2.3 M355.78,301.5v2.3 M362.39,539.5v-2.3 M362.39,301.5v2.3 M369.00,539.5v-2.3 M369.00,301.5v2.3 M375.61,539.5v-3.6 M375.61,301.5v3.6 M382.22,539.5v-2.3 M382.22,301.5v2.3 M388.83,539.5v-2.3 M388.83,301.5v2.3 M395.44,539.5v-2.3 M395.44,301.5v2.3 M402.06,539.5v-2.3 M402.06,301.5v2.3 M408.67,539.5v-3.6 M408.67,301.5v3.6 M415.28,539.5v-2.3 M415.28,301.5v2.3 M421.89,539.5v-2.3 M421.89,301.5v2.3 M428.50,539.5v-2.3 M428.50,301.5v2.3 M435.11,539.5v-2.3 M435.11,301.5v2.3 M441.72,539.5v-3.6 M441.72,301.5v3.6 M448.33,539.5v-2.3 M448.33,301.5v2.3 M454.94,539.5v-2.3 M454.94,301.5v2.3 M461.56,539.5v-2.3 M461.56,301.5v2.3 M468.17,539.5v-2.3 M468.17,301.5v2.3 M474.78,539.5v-3.6 M474.78,301.5v3.6 M481.39,539.5v-2.3 M481.39,301.5v2.3 M488.00,539.5v-2.3 M488.00,301.5v2.3 M494.61,539.5v-2.3 M494.61,301.5v2.3 M501.22,539.5v-2.3 M501.22,301.5v2.3 M507.83,539.5v-3.6 M507.83,301.5v3.6 M514.44,539.5v-2.3 M514.44,301.5v2.3 M521.06,539.5v-2.3 M521.06,301.5v2.3 M527.67,539.5v-2.3 M527.67,301.5v2.3 M534.28,539.5v-2.3 M534.28,301.5v2.3 M540.89,539.5v-3.6 M540.89,301.5v3.6 M309.5,521.59h1.4 M547.5,521.59h-1.4 M309.5,511.11h1.4 M547.5,511.11h-1.4 M309.5,503.68h1.4 M547.5,503.68h-1.4 M309.5,497.91h1.4 M547.5,497.91h-1.4 M309.5,493.20h1.4 M547.5,493.20h-1.4 M309.5,489.22h1.4 M547.5,489.22h-1.4 M309.5,485.77h1.4 M547.5,485.77h-1.4 M309.5,482.72h1.4 M547.5,482.72h-1.4 M309.5,480.00h3.4 M547.5,480.00h-3.4 M309.5,462.09h1.4 M547.5,462.09h-1.4 M309.5,451.61h1.4 M547.5,451.61h-1.4 M309.5,444.18h1.4 M547.5,444.18h-1.4 M309.5,438.41h1.4 M547.5,438.41h-1.4 M309.5,433.70h1.4 M547.5,433.70h-1.4 M309.5,429.72h1.4 M547.5,429.72h-1.4 M309.5,426.27h1.4 M547.5,426.27h-1.4 M309.5,423.22h1.4 M547.5,423.22h-1.4 M309.5,420.50h3.4 M547.5,420.50h-3.4 M309.5,402.59h1.4 M547.5,402.59h-1.4 M309.5,392.11h1.4 M547.5,392.11h-1.4 M309.5,384.68h1.4 M547.5,384.68h-1.4 M309.5,378.91h1.4 M547.5,378.91h-1.4 M309.5,374.20h1.4 M547.5,374.20h-1.4 M309.5,370.22h1.4 M547.5,370.22h-1.4 M309.5,366.77h1.4 M547.5,366.77h-1.4 M309.5,363.72h1.4 M547.5,363.72h-1.4 M309.5,361.00h3.4 M547.5,361.00h-3.4 M309.5,343.09h1.4 M547.5,343.09h-1.4 M309.5,332.61h1.4 M547.5,332.61h-1.4 M309.5,325.18h1.4 M547.5,325.18h-1.4 M309.5,319.41h1.4 M547.5,319.41h-1.4 M309.5,314.70h1.4 M547.5,314.70h-1.4 M309.5,310.72h1.4 M547.5,310.72h-1.4 M309.5,307.27h1.4 M547.5,307.27h-1.4 M309.5,304.22h1.4 M547.5,304.22h-1.4 M309.5,301.50h3.4 M547.5,301.50h-3.4" fill="none" stroke="#000" stroke-width="0.47"/>
<clipPath id="cp4"><rect x="308.3" y="301.5" width="240.4" height="239.1"/></clipPath>
<defs>
<path id="p4c" d="M309.3,532.3 L314.6,540.2 M412.4,540.7 L418.0,526.0 L423.0,514.0 L428.0,505.0 L432.0,495.0 L436.0,485.0 L440.0,473.0 L444.0,460.0 L448.0,448.0 L452.0,435.5 L456.0,424.0 L460.0,413.0 L464.0,404.0 L468.0,397.0 L472.0,392.6 L476.0,390.6 L479.0,390.2 L483.0,392.0 L487.0,396.0 L491.0,401.4 L495.0,408.0 L499.0,417.0 L503.0,427.0 L507.0,437.0 L511.0,448.0 L515.0,459.5 L519.0,472.5 L523.6,484.0 L527.0,495.0 L531.0,505.0 L535.0,515.0 L539.0,524.0 L543.6,533.0"/>
<path id="p4g" d="M430.4,540.7 L431.0,524.0 L432.0,510.0 L434.4,496.0 L437.0,483.6 L440.0,473.0 L444.0,460.0 L448.0,448.0 L452.0,435.5 L456.0,424.0 L460.0,413.0 L464.0,404.0 L468.0,397.0 L472.0,392.6 L476.0,390.6 L479.0,390.2 L483.0,392.0 L487.0,396.0 L491.0,401.4 L495.0,408.0 L499.0,417.0 L503.0,427.0 L507.0,437.0 L511.0,448.0 L515.0,459.5 L519.0,472.5 L523.6,484.0 L527.0,495.0 L531.0,505.0 L535.0,515.0 L539.0,526.0 L541.0,534.0 L542.4,540.7"/>
<path id="p4k" d="M435.4,540.7 L436.0,520.0 L438.0,498.0 L440.4,479.0 L443.0,466.0 L446.0,455.0 L449.0,446.0 L452.0,435.5 L456.0,424.0 L460.0,413.0 L464.0,404.0 L468.0,397.0 L472.0,392.6 L476.0,390.6 L479.0,390.2 L483.0,392.0 L487.0,396.0 L491.0,401.4 L495.0,408.0 L499.0,417.0 L503.0,427.0 L507.0,437.0 L511.0,448.0 L515.0,459.5 L519.0,472.5 L523.6,484.0 L527.0,495.0 L531.0,505.0 L535.0,517.0 L536.6,528.0 L537.4,540.7"/>
<path id="p4m" d="M443.4,540.7 L444.0,516.0 L445.6,488.0 L448.0,457.0 L451.0,441.0 L454.0,429.5 L456.0,424.0 L460.0,413.0 L464.0,404.0 L468.0,397.0 L472.0,392.6 L476.0,390.6 L479.0,390.2 L483.0,392.0 L487.0,396.0 L491.0,401.4 L495.0,408.0 L499.0,417.0 L503.0,427.0 L507.0,437.0 L511.0,448.0 L515.0,459.5 L519.0,472.5 L523.6,484.0 L527.0,498.0 L528.4,516.0 L529.6,540.7"/>
<mask id="m4c" maskUnits="userSpaceOnUse" x="307.5" y="299.5" width="242.0" height="242.0"><rect x="307.5" y="299.5" width="242.0" height="242.0" fill="#fff"/><g fill="none" stroke="#000" stroke-width="2.2" stroke-linejoin="round"><use href="#p4g"/><use href="#p4k"/><use href="#p4m"/></g></mask>
<mask id="m4g" maskUnits="userSpaceOnUse" x="307.5" y="299.5" width="242.0" height="242.0"><rect x="307.5" y="299.5" width="242.0" height="242.0" fill="#fff"/><g fill="none" stroke="#000" stroke-width="2.2" stroke-linejoin="round"><use href="#p4k"/><use href="#p4m"/></g></mask>
<mask id="m4k" maskUnits="userSpaceOnUse" x="307.5" y="299.5" width="242.0" height="242.0"><rect x="307.5" y="299.5" width="242.0" height="242.0" fill="#fff"/><g fill="none" stroke="#000" stroke-width="2.2" stroke-linejoin="round"><use href="#p4m"/></g></mask>
</defs>
<g clip-path="url(#cp4)" fill="none" stroke-width="2.2" stroke-linejoin="round" stroke-linecap="butt">
<use href="#p4c" stroke="#00ffff" mask="url(#m4c)"/>
<use href="#p4g" stroke="#00a800" mask="url(#m4g)"/>
<use href="#p4k" stroke="#808080" mask="url(#m4k)"/>
<use href="#p4m" stroke="#ff00ff"/>
</g>
<text x="428.1" y="292.0" font-size="14" font-weight="bold" text-anchor="middle" fill="#000">Orbit 58</text>
<text x="381.75" y="317.6" font-size="14" font-weight="bold" text-anchor="end" fill="#ff00ff">52 km/s</text>
<text x="381.75" y="333.6" font-size="14" font-weight="bold" text-anchor="end" fill="#808080">43 km/s</text>
<text x="381.75" y="350.8" font-size="14" font-weight="bold" text-anchor="end" fill="#00a800">37 km/s</text>
<text x="381.75" y="365.9" font-size="14" font-weight="bold" text-anchor="end" fill="#00ffff">0 km/s</text>
<text transform="translate(309.35,553.3) scale(0.94,1)" font-size="12.3" text-anchor="middle" fill="#000">0</text>
<text transform="translate(342.41,553.3) scale(0.94,1)" font-size="12.3" text-anchor="middle" fill="#000">50</text>
<text transform="translate(375.46,553.3) scale(0.94,1)" font-size="12.3" text-anchor="middle" fill="#000">100</text>
<text transform="translate(408.52,553.3) scale(0.94,1)" font-size="12.3" text-anchor="middle" fill="#000">150</text>
<text transform="translate(441.57,553.3) scale(0.94,1)" font-size="12.3" text-anchor="middle" fill="#000">200</text>
<text transform="translate(474.63,553.3) scale(0.94,1)" font-size="12.3" text-anchor="middle" fill="#000">250</text>
<text transform="translate(507.68,553.3) scale(0.94,1)" font-size="12.3" text-anchor="middle" fill="#000">300</text>
<text transform="translate(540.74,553.3) scale(0.94,1)" font-size="12.3" text-anchor="middle" fill="#000">350</text>
<text transform="translate(305.7,305.70) scale(0.915,1)" font-size="12.3" text-anchor="end" fill="#000">0.1</text>
<text transform="translate(305.7,365.20) scale(0.915,1)" font-size="12.3" text-anchor="end" fill="#000">0.01</text>
<text transform="translate(305.7,424.70) scale(0.915,1)" font-size="12.3" text-anchor="end" fill="#000">0.001</text>
<text transform="translate(296.20,484.50) scale(0.915,1)" font-size="12.3" text-anchor="end" fill="#000">10</text>
<text transform="translate(296.05,481.20) scale(0.93,1)" font-size="9.6" fill="#000">−<tspan dy="-1.3" font-size="9.2">4</tspan></text>
<text transform="translate(296.20,544.00) scale(0.915,1)" font-size="12.3" text-anchor="end" fill="#000">10</text>
<text transform="translate(296.50,540.70) scale(0.9,1)" font-size="9.9" fill="#000">−<tspan dy="-0.5" font-size="9.9">5</tspan></text>
</g>
<g>
<path d="M586.25,301.5H824.35 M586.25,539.5H824.35" fill="none" stroke="#000" stroke-width="0.42"/>
<path d="M586.5,301.5V539.5 M824.1,301.5V539.5" fill="none" stroke="#000" stroke-width="0.48"/>
<path d="M593.11,539.5v-2.3 M593.11,301.5v2.3 M599.72,539.5v-2.3 M599.72,301.5v2.3 M606.33,539.5v-2.3 M606.33,301.5v2.3 M612.94,539.5v-2.3 M612.94,301.5v2.3 M619.56,539.5v-3.6 M619.56,301.5v3.6 M626.17,539.5v-2.3 M626.17,301.5v2.3 M632.78,539.5v-2.3 M632.78,301.5v2.3 M639.39,539.5v-2.3 M639.39,301.5v2.3 M646.00,539.5v-2.3 M646.00,301.5v2.3 M652.61,539.5v-3.6 M652.61,301.5v3.6 M659.22,539.5v-2.3 M659.22,301.5v2.3 M665.83,539.5v-2.3 M665.83,301.5v2.3 M672.44,539.5v-2.3 M672.44,301.5v2.3 M679.06,539.5v-2.3 M679.06,301.5v2.3 M685.67,539.5v-3.6 M685.67,301.5v3.6 M692.28,539.5v-2.3 M692.28,301.5v2.3 M698.89,539.5v-2.3 M698.89,301.5v2.3 M705.50,539.5v-2.3 M705.50,301.5v2.3 M712.11,539.5v-2.3 M712.11,301.5v2.3 M718.72,539.5v-3.6 M718.72,301.5v3.6 M725.33,539.5v-2.3 M725.33,301.5v2.3 M731.94,539.5v-2.3 M731.94,301.5v2.3 M738.56,539.5v-2.3 M738.56,301.5v2.3 M745.17,539.5v-2.3 M745.17,301.5v2.3 M751.78,539.5v-3.6 M751.78,301.5v3.6 M758.39,539.5v-2.3 M758.39,301.5v2.3 M765.00,539.5v-2.3 M765.00,301.5v2.3 M771.61,539.5v-2.3 M771.61,301.5v2.3 M778.22,539.5v-2.3 M778.22,301.5v2.3 M784.83,539.5v-3.6 M784.83,301.5v3.6 M791.44,539.5v-2.3 M791.44,301.5v2.3 M798.06,539.5v-2.3 M798.06,301.5v2.3 M804.67,539.5v-2.3 M804.67,301.5v2.3 M811.28,539.5v-2.3 M811.28,301.5v2.3 M817.89,539.5v-3.6 M817.89,301.5v3.6 M586.5,521.59h1.4 M824.1,521.59h-1.4 M586.5,511.11h1.4 M824.1,511.11h-1.4 M586.5,503.68h1.4 M824.1,503.68h-1.4 M586.5,497.91h1.4 M824.1,497.91h-1.4 M586.5,493.20h1.4 M824.1,493.20h-1.4 M586.5,489.22h1.4 M824.1,489.22h-1.4 M586.5,485.77h1.4 M824.1,485.77h-1.4 M586.5,482.72h1.4 M824.1,482.72h-1.4 M586.5,480.00h3.4 M824.1,480.00h-3.4 M586.5,462.09h1.4 M824.1,462.09h-1.4 M586.5,451.61h1.4 M824.1,451.61h-1.4 M586.5,444.18h1.4 M824.1,444.18h-1.4 M586.5,438.41h1.4 M824.1,438.41h-1.4 M586.5,433.70h1.4 M824.1,433.70h-1.4 M586.5,429.72h1.4 M824.1,429.72h-1.4 M586.5,426.27h1.4 M824.1,426.27h-1.4 M586.5,423.22h1.4 M824.1,423.22h-1.4 M586.5,420.50h3.4 M824.1,420.50h-3.4 M586.5,402.59h1.4 M824.1,402.59h-1.4 M586.5,392.11h1.4 M824.1,392.11h-1.4 M586.5,384.68h1.4 M824.1,384.68h-1.4 M586.5,378.91h1.4 M824.1,378.91h-1.4 M586.5,374.20h1.4 M824.1,374.20h-1.4 M586.5,370.22h1.4 M824.1,370.22h-1.4 M586.5,366.77h1.4 M824.1,366.77h-1.4 M586.5,363.72h1.4 M824.1,363.72h-1.4 M586.5,361.00h3.4 M824.1,361.00h-3.4 M586.5,343.09h1.4 M824.1,343.09h-1.4 M586.5,332.61h1.4 M824.1,332.61h-1.4 M586.5,325.18h1.4 M824.1,325.18h-1.4 M586.5,319.41h1.4 M824.1,319.41h-1.4 M586.5,314.70h1.4 M824.1,314.70h-1.4 M586.5,310.72h1.4 M824.1,310.72h-1.4 M586.5,307.27h1.4 M824.1,307.27h-1.4 M586.5,304.22h1.4 M824.1,304.22h-1.4 M586.5,301.50h3.4 M824.1,301.50h-3.4" fill="none" stroke="#000" stroke-width="0.47"/>
<clipPath id="cp5"><rect x="585.3" y="301.5" width="240.4" height="239.1"/></clipPath>
<defs>
<path id="p5c" d="M708.0,540.7 L712.5,523.0 L717.0,506.0 L721.0,488.0 L725.0,470.0 L729.0,451.0 L732.0,435.0 L736.0,417.0 L740.0,399.0 L744.0,382.0 L748.0,367.0 L752.0,357.0 L756.0,353.0 L760.0,352.6 L764.0,356.4 L768.0,365.0 L772.0,377.0 L776.0,391.0 L780.0,407.0 L784.0,424.0 L788.0,442.0 L790.0,451.0 L793.0,468.0 L797.0,485.0 L801.0,501.0 L803.6,514.0 L808.0,530.0 L810.4,540.7"/>
<path id="p5g" d="M710.0,540.7 L713.5,523.0 L717.0,506.0 L721.0,488.0 L725.0,470.0 L729.0,451.0 L732.0,435.0 L736.0,417.0 L740.0,399.0 L744.0,382.0 L748.0,367.0 L752.0,357.0 L756.0,353.0 L760.0,352.6 L764.0,356.4 L768.0,365.0 L772.0,377.0 L776.0,391.0 L780.0,407.0 L784.0,424.0 L788.0,442.0 L790.0,451.0 L793.0,468.0 L797.0,485.0 L801.0,501.0 L803.6,514.0 L808.0,530.0 L810.4,540.7"/>
<path id="p5k" d="M714.0,540.7 L715.6,520.0 L717.6,504.0 L721.0,488.0 L725.0,470.0 L729.0,451.0 L732.0,435.0 L736.0,417.0 L740.0,399.0 L744.0,382.0 L748.0,367.0 L752.0,357.0 L756.0,353.0 L760.0,352.6 L764.0,356.4 L768.0,365.0 L772.0,377.0 L776.0,391.0 L780.0,407.0 L784.0,424.0 L788.0,442.0 L790.0,451.0 L793.0,468.0 L797.0,485.0 L801.0,501.0 L803.6,514.0 L808.0,530.0 L810.4,540.7"/>
<path id="p5m" d="M721.0,540.7 L722.0,520.0 L723.4,496.0 L725.0,474.0 L727.0,460.0 L729.0,451.0 L732.0,435.0 L736.0,417.0 L740.0,399.0 L744.0,382.0 L748.0,367.0 L752.0,357.0 L756.0,353.0 L760.0,352.6 L764.0,356.4 L768.0,365.0 L772.0,377.0 L776.0,391.0 L780.0,407.0 L784.0,424.0 L788.0,442.0 L790.0,451.0 L793.0,468.0 L797.0,485.0 L801.0,501.0 L803.6,514.0 L804.6,526.0 L805.2,540.7"/>
<mask id="m5c" maskUnits="userSpaceOnUse" x="584.5" y="299.5" width="242.0" height="242.0"><rect x="584.5" y="299.5" width="242.0" height="242.0" fill="#fff"/><g fill="none" stroke="#000" stroke-width="2.2" stroke-linejoin="round"><use href="#p5g"/><use href="#p5k"/><use href="#p5m"/></g></mask>
<mask id="m5g" maskUnits="userSpaceOnUse" x="584.5" y="299.5" width="242.0" height="242.0"><rect x="584.5" y="299.5" width="242.0" height="242.0" fill="#fff"/><g fill="none" stroke="#000" stroke-width="2.2" stroke-linejoin="round"><use href="#p5k"/><use href="#p5m"/></g></mask>
<mask id="m5k" maskUnits="userSpaceOnUse" x="584.5" y="299.5" width="242.0" height="242.0"><rect x="584.5" y="299.5" width="242.0" height="242.0" fill="#fff"/><g fill="none" stroke="#000" stroke-width="2.2" stroke-linejoin="round"><use href="#p5m"/></g></mask>
</defs>
<g clip-path="url(#cp5)" fill="none" stroke-width="2.2" stroke-linejoin="round" stroke-linecap="butt">
<use href="#p5c" stroke="#00ffff" mask="url(#m5c)"/>
<use href="#p5g" stroke="#00a800" mask="url(#m5g)"/>
<use href="#p5k" stroke="#808080" mask="url(#m5k)"/>
<use href="#p5m" stroke="#ff00ff"/>
</g>
<text x="704.85" y="292.0" font-size="14" font-weight="bold" text-anchor="middle" fill="#000">Orbit 59</text>
<text x="658.5" y="317.6" font-size="14" font-weight="bold" text-anchor="end" fill="#ff00ff">52 km/s</text>
<text x="658.5" y="333.6" font-size="14" font-weight="bold" text-anchor="end" fill="#808080">43 km/s</text>
<text x="658.5" y="350.8" font-size="14" font-weight="bold" text-anchor="end" fill="#00a800">37 km/s</text>
<text x="658.5" y="365.9" font-size="14" font-weight="bold" text-anchor="end" fill="#00ffff">0 km/s</text>
<text transform="translate(586.20,553.3) scale(0.94,1)" font-size="12.3" text-anchor="middle" fill="#000">0</text>
<text transform="translate(619.26,553.3) scale(0.94,1)" font-size="12.3" text-anchor="middle" fill="#000">50</text>
<text transform="translate(652.31,553.3) scale(0.94,1)" font-size="12.3" text-anchor="middle" fill="#000">100</text>
<text transform="translate(685.37,553.3) scale(0.94,1)" font-size="12.3" text-anchor="middle" fill="#000">150</text>
<text transform="translate(718.42,553.3) scale(0.94,1)" font-size="12.3" text-anchor="middle" fill="#000">200</text>
<text transform="translate(751.48,553.3) scale(0.94,1)" font-size="12.3" text-anchor="middle" fill="#000">250</text>
<text transform="translate(784.53,553.3) scale(0.94,1)" font-size="12.3" text-anchor="middle" fill="#000">300</text>
<text transform="translate(817.59,553.3) scale(0.94,1)" font-size="12.3" text-anchor="middle" fill="#000">350</text>
<text transform="translate(582.7,305.70) scale(0.915,1)" font-size="12.3" text-anchor="end" fill="#000">0.1</text>
<text transform="translate(582.7,365.20) scale(0.915,1)" font-size="12.3" text-anchor="end" fill="#000">0.01</text>
<text transform="translate(582.7,424.70) scale(0.915,1)" font-size="12.3" text-anchor="end" fill="#000">0.001</text>
<text transform="translate(573.20,484.50) scale(0.915,1)" font-size="12.3" text-anchor="end" fill="#000">10</text>
<text transform="translate(573.05,481.20) scale(0.93,1)" font-size="9.6" fill="#000">−<tspan dy="-1.3" font-size="9.2">4</tspan></text>
<text transform="translate(573.20,544.00) scale(0.915,1)" font-size="12.3" text-anchor="end" fill="#000">10</text>
<text transform="translate(573.50,540.70) scale(0.9,1)" font-size="9.9" fill="#000">−<tspan dy="-0.5" font-size="9.9">5</tspan></text>
</g>
</svg>
</body></html>
